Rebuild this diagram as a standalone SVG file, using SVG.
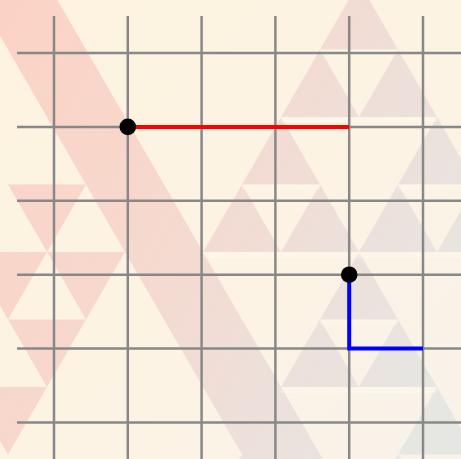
<svg xmlns="http://www.w3.org/2000/svg" width="461" height="459" viewBox="0 0 461 459">
  <defs>
    <linearGradient id="bg" gradientUnits="userSpaceOnUse" x1="0" y1="0" x2="461" y2="459">
      <stop offset="0" stop-color="#fdf3df"/>
      <stop offset="0.6" stop-color="#fcf3e4"/>
      <stop offset="1" stop-color="#f8f2ea"/>
    </linearGradient>
    <linearGradient id="tri" gradientUnits="userSpaceOnUse" x1="0" y1="0" x2="500" y2="250">
      <stop offset="0" stop-color="#fbd3c5"/>
      <stop offset="0.4" stop-color="#f7d8cd"/>
      <stop offset="0.7" stop-color="#eedfd9"/>
      <stop offset="1" stop-color="#e6e6e3"/>
    </linearGradient>
    <style>
      .t { fill: url(#tri); }
      .s { fill: #fffaf0; opacity: 0.4; }
      .grid line { stroke: #888888; stroke-width: 2.5; }
      .conn { fill: none; stroke-width: 4; stroke-linejoin: miter; stroke-linecap: butt; }
      .dot { fill: #000000; }
    </style>
  </defs>

  <g id="background">
    <rect x="0" y="0" width="461" height="459" fill="url(#bg)"/>
    <polygon class="t" points="-31,-18 47,-18 359,522 281,522"/>
    <polygon class="t" points="359,-18 320,49.5 398,49.5"/>
    <polygon class="t" points="320,49.5 281,117 359,117"/>
    <polygon class="t" points="398,49.5 359,117 437,117"/>
    <polygon class="t" points="281,117 242,184.5 320,184.5"/>
    <polygon class="t" points="437,117 398,184.5 476,184.5"/>
    <polygon class="t" points="242,184.5 203,252 281,252"/>
    <polygon class="t" points="320,184.5 281,252 359,252"/>
    <polygon class="t" points="398,184.5 359,252 437,252"/>
    <polygon class="t" points="476,184.5 437,252 515,252"/>
    <polygon class="t" points="359,252 320,319.5 398,319.5"/>
    <polygon class="t" points="320,319.5 281,387 359,387"/>
    <polygon class="t" points="398,319.5 359,387 437,387"/>
    <polygon class="t" points="281,387 242,454.5 320,454.5"/>
    <polygon class="t" points="437,387 398,454.5 476,454.5"/>
    <polygon class="t" points="242,454.5 203,522 281,522"/>
    <polygon class="t" points="320,454.5 281,522 359,522"/>
    <polygon class="t" points="398,454.5 359,522 437,522"/>
    <polygon class="t" points="476,454.5 437,522 515,522"/>
    <polygon class="t" points="8,184.5 86,184.5 47,252"/>
    <polygon class="t" points="-31,252 47,252 8,319.5"/>
    <polygon class="t" points="47,252 125,252 86,319.5"/>
    <polygon class="t" points="8,319.5 86,319.5 47,387"/>
    <polygon class="t" points="-31,387 47,387 8,454.5"/>
    <rect class="s" x="320" y="49.5" width="78" height="5"/>
    <rect class="s" x="281" y="117" width="156" height="5"/>
    <rect class="s" x="242" y="184.5" width="78" height="5"/>
    <rect class="s" x="398" y="184.5" width="78" height="5"/>
    <rect class="s" x="203" y="252" width="312" height="6"/>
    <rect class="s" x="320" y="319.5" width="78" height="5"/>
    <rect class="s" x="281" y="387" width="156" height="6"/>
  </g>

  <g id="grid" class="grid">
    <line x1="54" y1="16" x2="54" y2="459"/>
    <line x1="127.8" y1="16" x2="127.8" y2="459"/>
    <line x1="201.6" y1="16" x2="201.6" y2="459"/>
    <line x1="275.4" y1="16" x2="275.4" y2="459"/>
    <line x1="349.2" y1="16" x2="349.2" y2="459"/>
    <line x1="423" y1="16" x2="423" y2="459"/>
    <line x1="17" y1="53" x2="461" y2="53"/>
    <line x1="17" y1="126.9" x2="461" y2="126.9"/>
    <line x1="17" y1="200.8" x2="461" y2="200.8"/>
    <line x1="17" y1="274.7" x2="461" y2="274.7"/>
    <line x1="17" y1="348.6" x2="461" y2="348.6"/>
    <line x1="17" y1="422.5" x2="461" y2="422.5"/>
  </g>

  <g id="connectors">
    <polyline class="conn" stroke="#ff0000" points="127.8,126.9 349.2,126.9"/>
    <polyline class="conn" stroke="#0000ff" points="349.2,274.7 349.2,348.6 423,348.6"/>
  </g>

  <g id="node-a">
    <circle class="dot" cx="127.8" cy="126.9" r="8.3"/>
  </g>
  <g id="node-b">
    <circle class="dot" cx="349.2" cy="274.7" r="8.3"/>
  </g>
</svg>
